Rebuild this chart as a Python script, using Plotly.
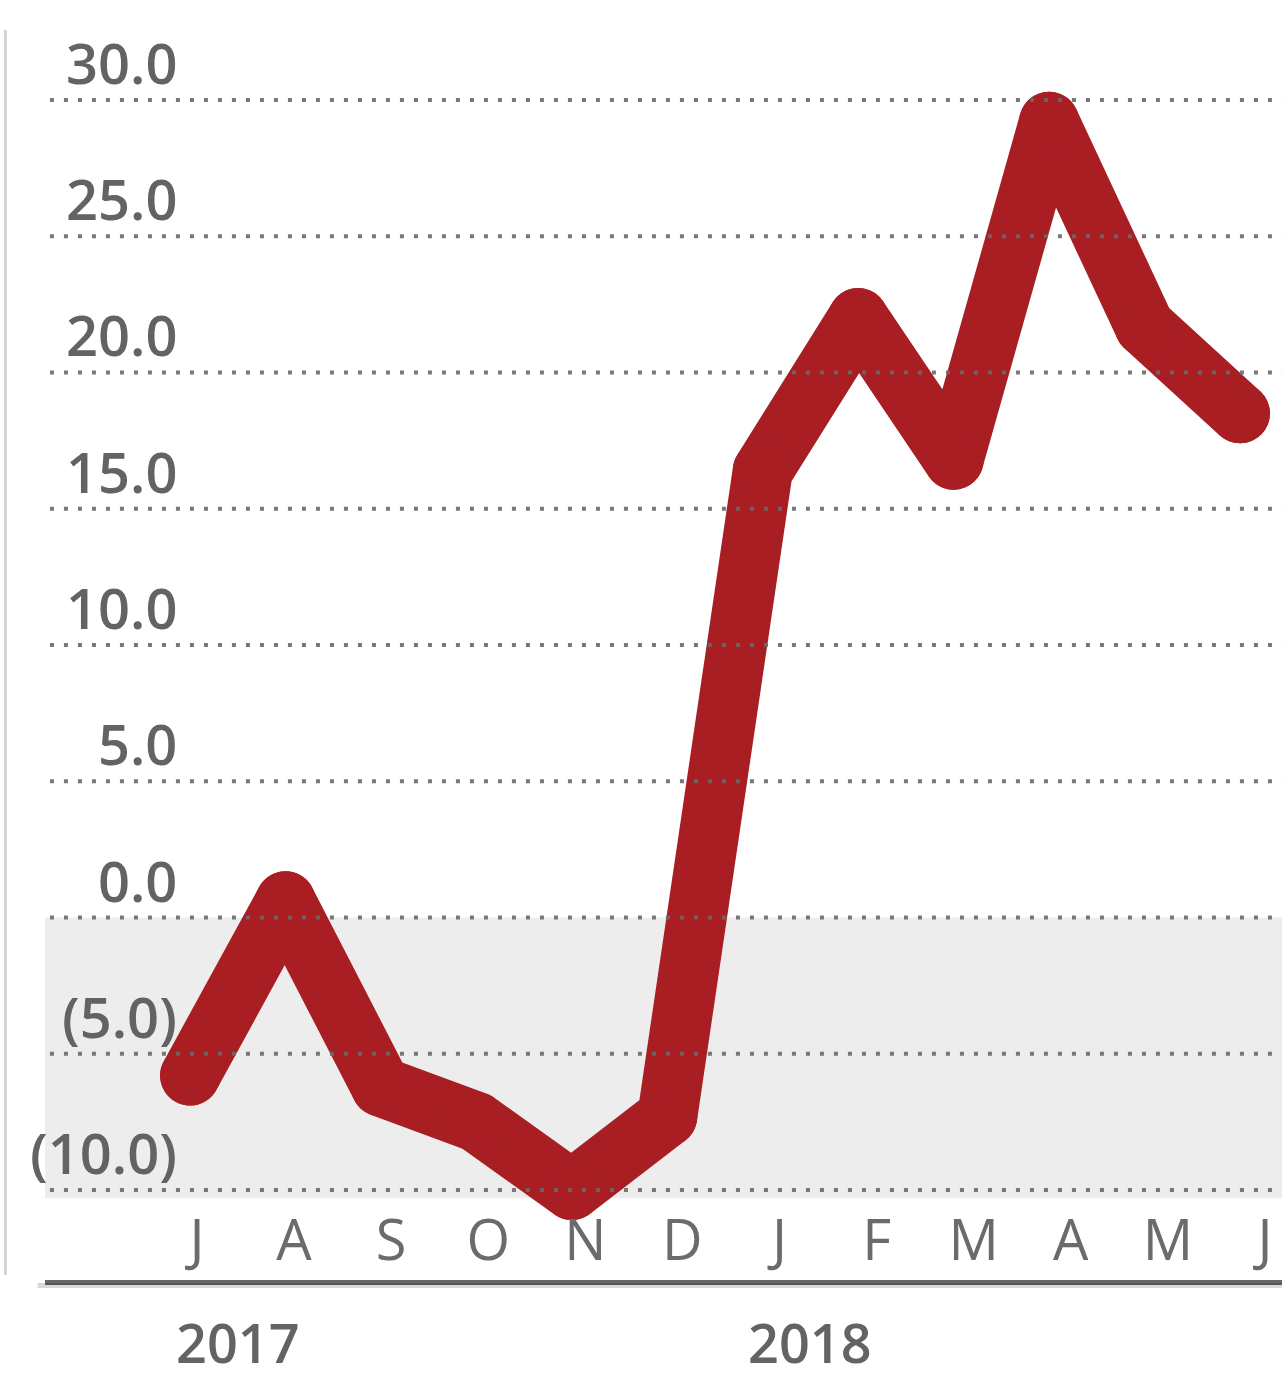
import plotly.graph_objects as go

months = ["J", "A", "S", "O", "N", "D", "J", "F", "M", "A", "M", "J"]
values = [-5.8, 0.6, -6.2, -7.5, -10.0, -7.3, 16.4, 22.0, 16.8, 29.2, 21.7, 18.5]
y_ticks = [30, 25, 20, 15, 10, 5, 0, -5, -10]
y_labels = ["30.0", "25.0", "20.0", "15.0", "10.0", "5.0", "0.0", "(5.0)", "(10.0)"]
years = ["2017", "2018"]
year_pos = [0.5, 6.5]

RED = "#A81E23"
GREY_TXT = "#636363"
FONT = "Open Sans"
LW = 60

idx = list(range(len(months)))

fig = go.Figure()
fig.add_trace(go.Scatter(
    x=idx, y=values, mode="lines+markers",
    line=dict(color=RED, width=LW),
    marker=dict(color=RED, size=LW, line=dict(width=0)),
    showlegend=False, hoverinfo="skip",
))
# helper trace so the month-label axis is drawn
fig.add_trace(go.Scatter(
    x=[idx[0], idx[-1]], y=[None, None], xaxis="x2", yaxis="y",
    mode="lines", showlegend=False, hoverinfo="skip",
))

shapes = []
# grey band below zero
shapes.append(dict(type="rect", xref="paper", yref="y", x0=0, x1=1,
                   y0=-10.3, y1=0, fillcolor="#EDEDED", line=dict(width=0),
                   layer="below"))
# dotted gridlines above the line
for v in y_ticks:
    shapes.append(dict(type="line", xref="paper", yref="y", x0=0.004, x1=1,
                       y0=v, y1=v, layer="above",
                       line=dict(color="rgba(105,105,105,0.9)", width=4,
                                 dash="4px,10px")))
# axis shadow
shapes.append(dict(type="line", xref="paper", yref="paper", x0=-0.006, x1=1,
                   y0=-0.0045, y1=-0.0045, layer="above",
                   line=dict(color="rgba(0,0,0,0.15)", width=5)))
# left border
shapes.append(dict(type="line", xref="paper", yref="paper", x0=-0.032, x1=-0.032,
                   y0=0.004, y1=1.008, layer="below",
                   line=dict(color="#D4D4D4", width=3)))

annotations = []
for v, lab in zip(y_ticks, y_labels):
    annotations.append(dict(xref="paper", yref="y", x=0.108, y=v, text=lab,
                            showarrow=False, xanchor="right", yanchor="middle",
                            yshift=38,
                            font=dict(family=FONT, size=56, color=GREY_TXT,
                                      weight=600)))
for yr, p in zip(years, year_pos):
    annotations.append(dict(xref="x", yref="paper", x=p, y=-0.05, text=yr,
                            showarrow=False, xanchor="center", yanchor="middle",
                            font=dict(family=FONT, size=54, color=GREY_TXT,
                                      weight=600)))

fig.update_layout(
    width=1282, height=1381,
    margin=dict(l=45, r=0, t=40, b=101),
    paper_bgcolor="white", plot_bgcolor="white",
    showlegend=False,
    xaxis=dict(range=[-1.52, 11.44], showgrid=False, zeroline=False,
               showticklabels=False, ticks="", showline=True,
               linecolor="#666666", linewidth=5),
    xaxis2=dict(overlaying="x", anchor="free", position=0.0625, side="bottom",
                range=[-1.565, 11.175], tickvals=idx, ticktext=months,
                showgrid=False, zeroline=False, showline=False, ticks="",
                tickfont=dict(family=FONT, size=56, color="#6B6B6B", weight=500)),
    yaxis=dict(range=[-13.3, 32.2], showgrid=False, zeroline=False,
               showticklabels=False, ticks=""),
    shapes=shapes,
    annotations=annotations,
)

post = """
document.body.style.margin = '0';
var gd = document.getElementById('{plot_id}');
function roundJoins() {
  gd.querySelectorAll('.scatterlayer .js-line').forEach(function (p) {
    p.style.strokeLinejoin = 'round';
    p.style.strokeLinecap = 'round';
  });
}
roundJoins();
if (gd.on) { gd.on('plotly_afterplot', roundJoins); }
"""

fig.write_html("out.html", post_script=post,
               config={"displayModeBar": False, "staticPlot": True})
